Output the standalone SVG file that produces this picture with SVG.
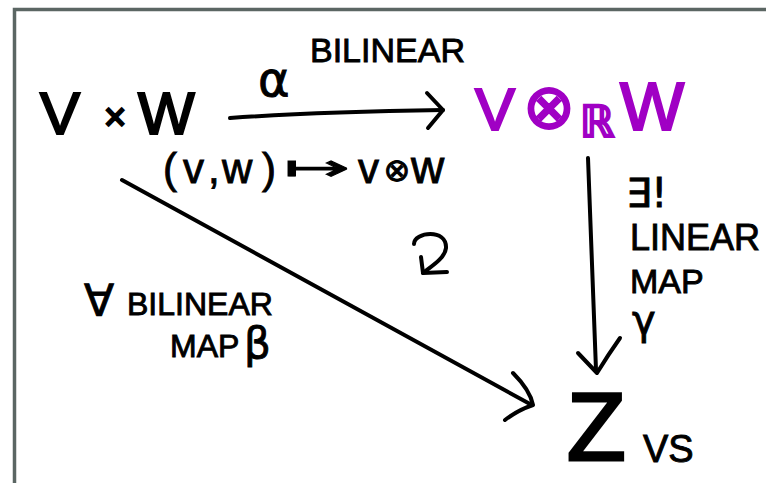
<svg xmlns="http://www.w3.org/2000/svg" width="766" height="483" viewBox="0 0 766 483">
<style>
.t{font-family:"Liberation Sans","DejaVu Sans",sans-serif;fill:#000;stroke:#000;stroke-width:0.9}
.m{font-family:"DejaVu Sans","Liberation Sans",sans-serif;fill:#000;stroke:#000;stroke-width:0.9}
.b{stroke-width:2.2}
.p{fill:#a000c4;stroke:#a000c4}
.ln{fill:none;stroke:#000;stroke-width:4;stroke-linecap:round;stroke-linejoin:round}
</style>
<rect x="0" y="0" width="766" height="483" fill="#fff"/>
<path d="M14.5,483 L14.5,9.5 L766,9.5" fill="none" stroke="#5b6663" stroke-width="3.5"/>

<g id="vxw">
<text class="t b" x="40" y="134" font-size="60">V</text>
<text class="t b" x="104" y="130" font-size="38">×</text>
<text class="t b" x="138" y="134" font-size="60">W</text>
</g>

<g id="tensor">
<text class="t b p" x="475" y="130" font-size="60">V</text>
<text class="m b p" x="549" y="128" font-size="62" text-anchor="middle">⊗</text>
<text class="m b p" x="580" y="137" font-size="44">ℝ</text>
<text class="t b p" x="620" y="130" font-size="68">W</text>
</g>

<g id="z">
<text class="t b" x="567" y="460" font-size="96" style="stroke-width:3">Z</text>
<text class="t" x="643" y="462" font-size="38">VS</text>
</g>

<g id="connectors">
<path class="ln" d="M230,118 C300,113 380,111 443,110"/>
<path class="ln" d="M427,93 L443,110 L428,128"/>
<path class="ln" d="M588,158 L596,370"/>
<path class="ln" d="M578,353 L597,373 Q608,355 620,338"/>
<path class="ln" d="M122,180 L530,404"/>
<path class="ln" d="M513,373 Q530,390 533,405 Q518,410 505,420"/>
<path class="ln" d="M414,244 C414,232 447,228 446,248 C445,258 432,266 423,273"/>
<path class="ln" d="M421,257 L423,273 L447,272"/>
</g>

<g id="labels">
<text class="m" x="258" y="96" font-size="48">α</text>
<text class="t" x="310" y="62" font-size="34">BILINEAR</text>
<text class="t" font-size="42" y="183"><tspan x="163">(</tspan><tspan x="183">v</tspan><tspan x="208">,</tspan><tspan x="222">w</tspan><tspan x="262">)</tspan></text>
<text class="m" x="284" y="180" font-size="36" textLength="66" lengthAdjust="spacingAndGlyphs">↦</text>
<text class="t" font-size="42" y="183"><tspan x="358">v</tspan><tspan x="411" font-size="46">w</tspan></text>
<text class="m" x="397" y="181" font-size="32" text-anchor="middle">⊗</text>
<text class="m" x="626" y="207" font-size="40">∃!</text>
<text class="t" x="630" y="250" font-size="36">LINEAR</text>
<text class="t" x="630" y="293" font-size="34">MAP</text>
<text class="m" x="632" y="334" font-size="40">γ</text>
<text class="m" x="84" y="316" font-size="44">∀</text>
<text class="t" x="127" y="315" font-size="32">BILINEAR</text>
<text class="t" x="170" y="357" font-size="32">MAP</text>
<text class="m" x="244" y="358" font-size="42">β</text>
</g>
</svg>
